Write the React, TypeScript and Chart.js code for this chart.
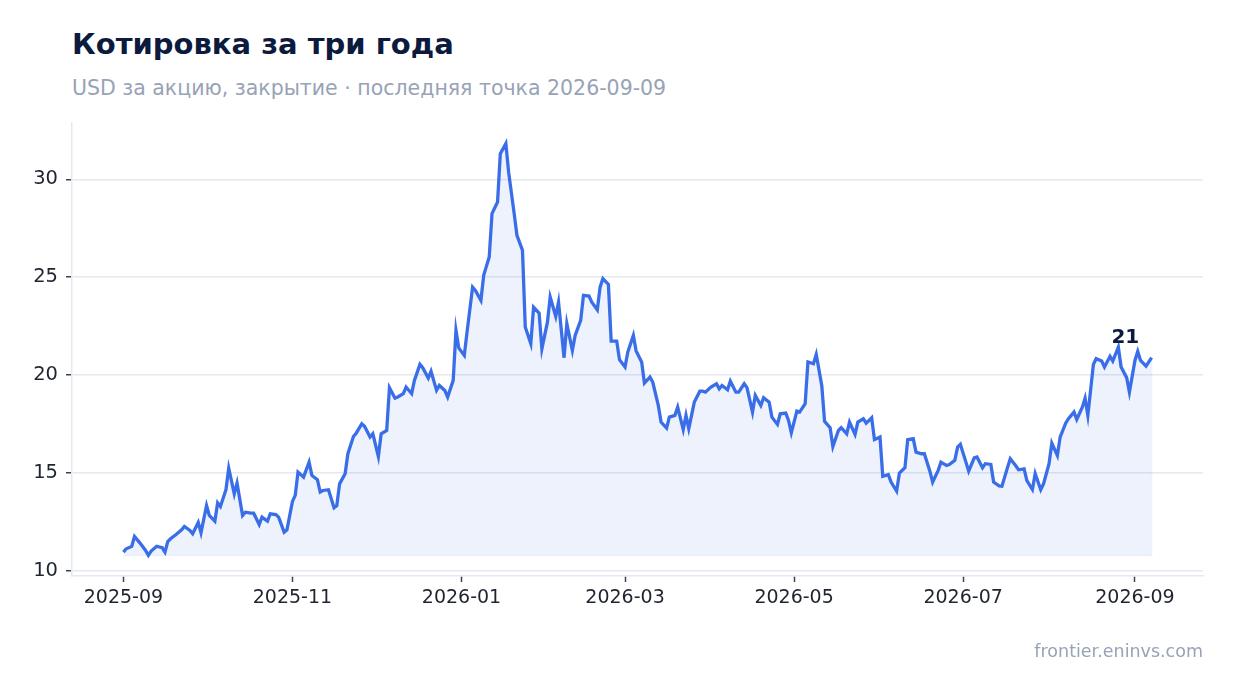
import { useEffect, useRef } from "react";
import { Chart, registerables } from "chart.js";

Chart.register(...registerables);

const START = Date.UTC(2025, 8, 1);
const DAY = 86400000;

// days since 2025-09-01
const days = [
  0, 1, 3, 4, 6, 8, 9, 10, 12, 14,
  15, 16, 17, 19, 21, 22, 24, 25, 27, 28,
  30, 31, 33, 34, 35, 37, 38, 40, 41, 43,
  44, 46, 47, 49, 50, 52, 53, 55, 56, 58,
  59, 61, 62, 63, 65, 67, 68, 70, 71, 72,
  74, 76, 77, 78, 80, 81, 83, 84, 86, 87,
  89, 90, 92, 93, 95, 96, 98, 99, 101, 102,
  104, 105, 107, 108, 110, 111, 113, 114, 116, 117,
  119, 120, 121, 123, 124, 126, 127, 129, 130, 132,
  133, 135, 136, 138, 139, 141, 142, 144, 145, 147,
  148, 150, 151, 153, 154, 156, 157, 159, 160, 162,
  163, 165, 166, 168, 169, 171, 172, 173, 175, 176,
  178, 179, 181, 182, 184, 185, 187, 188, 190, 191,
  193, 194, 196, 197, 199, 200, 202, 203, 204, 206,
  208, 209, 210, 212, 214, 215, 216, 218, 219, 221,
  222, 224, 225, 227, 228, 230, 231, 233, 234, 236,
  237, 239, 240, 241, 243, 244, 246, 247, 249, 250,
  252, 253, 255, 256, 258, 259, 261, 262, 264, 265,
  267, 268, 270, 271, 273, 274, 276, 277, 279, 280,
  282, 283, 285, 286, 288, 289, 291, 292, 294, 295,
  297, 298, 300, 301, 302, 304, 305, 307, 308, 310,
  311, 313, 314, 316, 317, 319, 320, 322, 323, 325,
  326, 328, 329, 331, 332, 334, 335, 337, 338, 340,
  341, 343, 344, 346, 347, 348, 350, 351, 353, 354,
  356, 357, 359, 360, 362, 363, 365, 366, 367, 369, 371,
];

// closing price, USD
const prices = [
  10.94, 11.11, 11.23, 11.74, 11.4, 11.02, 10.77, 10.99, 11.24, 11.16,
  10.94, 11.48, 11.62, 11.84, 12.08, 12.25, 12.05, 11.88, 12.46, 11.93,
  13.32, 12.81, 12.52, 13.46, 13.27, 14.13, 15.23, 13.92, 14.47, 12.81,
  12.98, 12.93, 12.93, 12.35, 12.73, 12.52, 12.9, 12.86, 12.73, 11.96,
  12.08, 13.53, 13.84, 15.03, 14.77, 15.54, 14.86, 14.64, 14.01, 14.09,
  14.13, 13.21, 13.32, 14.43, 14.95, 15.97, 16.85, 17.02, 17.5, 17.37,
  16.82, 16.99, 15.83, 16.99, 17.16, 19.35, 18.81, 18.87, 19.04, 19.38,
  19.04, 19.72, 20.54, 20.37, 19.84, 20.19, 19.21, 19.46, 19.2, 18.87,
  19.72, 22.28, 21.38, 21.0, 22.2, 24.49, 24.32, 23.81, 25.09, 26.03,
  28.25, 28.84, 31.31, 31.83, 30.37, 28.25, 27.14, 26.37, 22.45, 21.6,
  23.47, 23.16, 21.34, 22.7, 23.98, 22.99, 23.72, 20.88, 22.62, 21.25,
  22.02, 22.79, 24.07, 24.03, 23.72, 23.33, 24.49, 24.92, 24.63, 21.73,
  21.73, 20.78, 20.4, 21.17, 22.02, 21.23, 20.66, 19.58, 19.89, 19.63,
  18.44, 17.59, 17.28, 17.84, 17.93, 18.35, 17.2, 17.93, 17.25, 18.61,
  19.17, 19.17, 19.12, 19.38, 19.55, 19.29, 19.46, 19.24, 19.68, 19.12,
  19.12, 19.55, 19.35, 18.1, 18.95, 18.44, 18.83, 18.61, 17.84, 17.47,
  18.01, 18.05, 17.67, 17.04, 18.15, 18.1, 18.53, 20.66, 20.57, 21.05,
  19.45, 17.63, 17.3, 16.34, 17.16, 17.3, 16.99, 17.59, 16.96, 17.59,
  17.76, 17.53, 17.81, 16.69, 16.82, 14.81, 14.9, 14.52, 14.06, 14.98,
  15.25, 16.69, 16.74, 16.05, 15.97, 15.97, 15.08, 14.52, 15.12, 15.54,
  15.37, 15.42, 15.63, 16.31, 16.45, 15.54, 15.08, 15.76, 15.8, 15.25,
  15.46, 15.42, 14.52, 14.33, 14.31, 15.26, 15.71, 15.35, 15.15, 15.2,
  14.6, 14.14, 14.95, 14.13, 14.43, 15.46, 16.51, 15.88, 16.82, 17.53,
  17.76, 18.1, 17.72, 18.35, 18.81, 17.93, 20.54, 20.83, 20.71, 20.4,
  20.95, 20.71, 21.42, 20.4, 19.86, 19.12, 20.74, 21.2, 20.74, 20.45, 20.88,
];

const tickMonths = ["2025-09", "2025-11", "2026-01", "2026-03", "2026-05", "2026-07", "2026-09"];
const yTicks = [10, 15, 20, 25, 30];
const markIndex = 242; // point that carries the value label

const FONT = "'DejaVu Sans', sans-serif";
const LINE = "#3a6ee8";
const GRID = "#e4e8ef";
const TICK = "#3b4252";

const monthToDay = (m: string) => {
  const [y, mo] = m.split("-").map(Number);
  return (Date.UTC(y, mo - 1, 1) - START) / DAY;
};

const valueLabel = {
  id: "valueLabel",
  afterDatasetsDraw(chart: any) {
    const pt = chart.getDatasetMeta(0).data[markIndex];
    if (!pt) return;
    const ctx = chart.ctx;
    ctx.save();
    ctx.font = `bold 20px ${FONT}`;
    ctx.fillStyle = "#0c1a3d";
    ctx.textAlign = "center";
    ctx.textBaseline = "alphabetic";
    ctx.fillText(String(Math.round(prices[markIndex])), pt.x + 7, pt.y - 4);
    ctx.restore();
  },
};

export default function App() {
  const canvasRef = useRef<HTMLCanvasElement>(null);

  useEffect(() => {
    if (!canvasRef.current) return;

    const first = days[0];
    const last = days[days.length - 1];
    const span = last - first;
    const lo = Math.min(...prices);
    const hi = Math.max(...prices);
    const range = hi - lo;

    const points = days.map((d, i) => ({ x: d, y: prices[i] }));

    const chart = new Chart(canvasRef.current, {
      type: "line",
      data: {
        datasets: [
          {
            label: "Close",
            data: points,
            borderColor: LINE,
            borderWidth: 3.3,
            backgroundColor: "rgba(58,110,232,0.09)",
            fill: { value: lo },
            pointRadius: 0,
            tension: 0,
          },
          {
            label: "edge",
            data: [
              { x: first, y: lo },
              { x: last, y: lo },
              { x: last, y: prices[prices.length - 1] },
            ],
            borderColor: "rgba(58,110,232,0.07)",
            borderWidth: 1.5,
            pointRadius: 0,
            fill: false,
          },
        ],
      },
      options: {
        animation: false,
        responsive: false,
        layout: { padding: { left: 0, top: 123, right: 31, bottom: 77 } },
        plugins: {
          legend: { display: false },
          tooltip: { enabled: false },
        },
        scales: {
          x: {
            type: "linear",
            min: first - span * 0.05,
            max: last + span * 0.05,
            afterFit: (s: any) => {
              s.height = 40;
            },
            afterBuildTicks: (s: any) => {
              s.ticks = tickMonths.map((m) => ({ value: monthToDay(m) }));
            },
            ticks: {
              color: "#1f2430",
              font: { family: FONT, size: 19 },
              padding: 5,
              maxRotation: 0,
              autoSkip: false,
              callback: (v: any) => {
                const d = new Date(START + Number(v) * DAY);
                return `${d.getUTCFullYear()}-${String(d.getUTCMonth() + 1).padStart(2, "0")}`;
              },
            },
            grid: {
              drawOnChartArea: false,
              tickColor: TICK,
              tickLength: 6,
              tickWidth: 1.5,
            },
            border: { color: GRID, width: 1.5 },
          },
          y: {
            type: "linear",
            min: lo - range * 0.05,
            max: hi + range * 0.05,
            afterFit: (s: any) => {
              s.width = 72;
            },
            afterBuildTicks: (s: any) => {
              s.ticks = yTicks.map((v) => ({ value: v }));
            },
            ticks: {
              color: "#1f2430",
              font: { family: FONT, size: 19.5 },
              padding: 8,
            },
            grid: {
              color: GRID,
              lineWidth: 1.5,
              tickColor: TICK,
              tickLength: 6,
              tickWidth: 1.5,
            },
            border: { color: GRID, width: 1.5 },
          },
        },
      },
      plugins: [valueLabel],
    });

    return () => chart.destroy();
  }, []);

  return (
    <div style={{ position: "absolute", left: 0, top: 0, width: 1234, height: 693, background: "#fff", fontFamily: FONT }}>
      <div style={{ position: "absolute", left: 72, top: 29.5, fontSize: 29, lineHeight: 1, fontWeight: "bold", color: "#0c1a3d", whiteSpace: "nowrap" }}>
        Котировка за три года
      </div>
      <div style={{ position: "absolute", left: 72, top: 77.7, fontSize: 20.5, lineHeight: 1, color: "#97a3b6", whiteSpace: "nowrap" }}>
        USD за акцию, закрытие · последняя точка 2026-09-09
      </div>
      <canvas ref={canvasRef} width={1234} height={693} style={{ position: "absolute", left: 0, top: 0 }} />
      <div style={{ position: "absolute", right: 31, top: 643, fontSize: 17.5, lineHeight: 1, color: "#97a3b6", whiteSpace: "nowrap" }}>
        frontier.eninvs.com
      </div>
    </div>
  );
}
